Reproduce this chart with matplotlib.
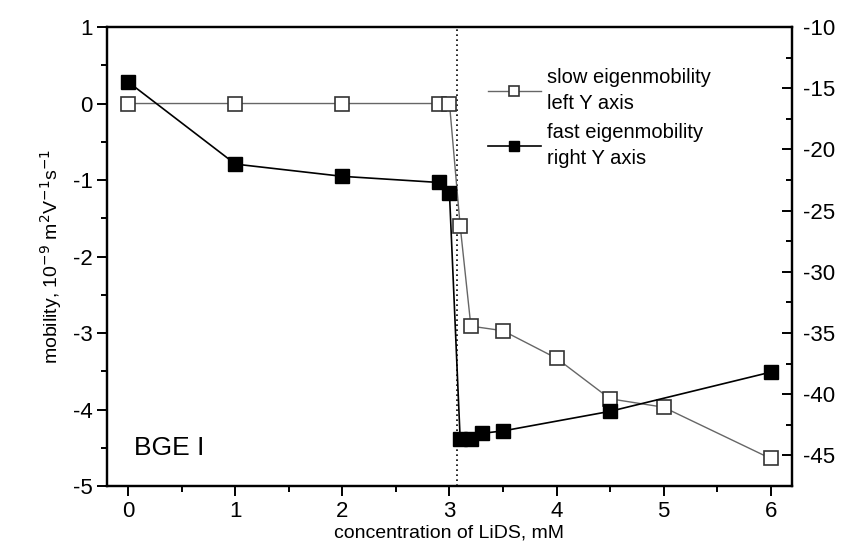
import matplotlib
matplotlib.use("Agg")
import matplotlib.pyplot as plt
from matplotlib.ticker import MultipleLocator

plt.rcParams['font.family'] = ['Liberation Sans', 'DejaVu Sans']
plt.rcParams['axes.unicode_minus'] = False

# Slow eigenmobility (left axis, 10^-9 m^2 V^-1 s^-1)
slow_conc = [0, 1, 2, 2.9, 3.0, 3.1, 3.2, 3.5, 4.0, 4.5, 5.0, 6.0]
slow_mob = [0, 0, 0, 0, 0, -1.60, -2.91, -2.97, -3.33, -3.86, -3.97, -4.64]

# Fast eigenmobility (right axis)
fast_conc = [0, 1, 2, 2.9, 3.0, 3.1, 3.2, 3.3, 3.5, 4.5, 6.0]
fast_mob = [-14.5, -21.2, -22.2, -22.7, -23.6, -43.7, -43.7, -43.2, -43.0, -41.4, -38.2]

critical_conc = 3.07

fig = plt.figure(figsize=(8.41, 5.47), dpi=100)
ax = fig.add_axes([0.1272, 0.1115, 0.8145, 0.8391])
ax2 = ax.twinx()

ax.set_xlim(-0.2, 6.2)
ax.set_ylim(-5, 1)
ax2.set_ylim(-47.5, -10)

ax.axvline(critical_conc, color='black', linestyle=(0, (1, 2)), linewidth=1.2)

l1, = ax.plot(slow_conc, slow_mob, color='#666666', linewidth=1.0, marker='s',
              markersize=9.5, markerfacecolor='white', markeredgecolor='#333333',
              markeredgewidth=1.2, zorder=3)
l2, = ax2.plot(fast_conc, fast_mob, color='black', linewidth=1.2, marker='s',
               markersize=9.5, markerfacecolor='black', markeredgecolor='black', zorder=3)

for a in (ax, ax2):
    for s in a.spines.values():
        s.set_linewidth(1.6)

ax.xaxis.set_major_locator(MultipleLocator(1))
ax.xaxis.set_minor_locator(MultipleLocator(0.5))
ax.yaxis.set_major_locator(MultipleLocator(1))
ax.yaxis.set_minor_locator(MultipleLocator(0.5))
ax2.yaxis.set_major_locator(MultipleLocator(5))
ax2.yaxis.set_minor_locator(MultipleLocator(2.5))

ax.tick_params(axis='both', which='major', direction='out', length=7, width=1.4,
               labelsize=16, top=False, right=False)
ax.tick_params(axis='both', which='minor', direction='out', length=4, width=1.4,
               top=False, right=False)
ax2.tick_params(axis='y', which='major', direction='in', length=7, width=1.4,
                labelsize=16, pad=8)
ax2.tick_params(axis='y', which='minor', direction='in', length=4, width=1.4)

ax.set_xlabel('concentration of LiDS, mM', fontsize=14, labelpad=2)
ax.set_ylabel('mobility, 10$^{-9}$ m$^{2}$V$^{-1}$s$^{-1}$', fontsize=14, labelpad=6)

ax.text(0.05, -4.5, 'BGE I', fontsize=19, ha='left', va='center')

leg = ax.legend([l1, l2], ['slow eigenmobility\nleft Y axis', 'fast eigenmobility\nright Y axis'],
                loc='upper left', bbox_to_anchor=(0.53, 0.95), frameon=False, fontsize=14.5,
                handlelength=2.6, handletextpad=0.3, labelspacing=0.5, markerscale=0.7)
for t in leg.get_texts():
    t.set_linespacing(1.45)

fig.savefig('out.png', dpi=100)
